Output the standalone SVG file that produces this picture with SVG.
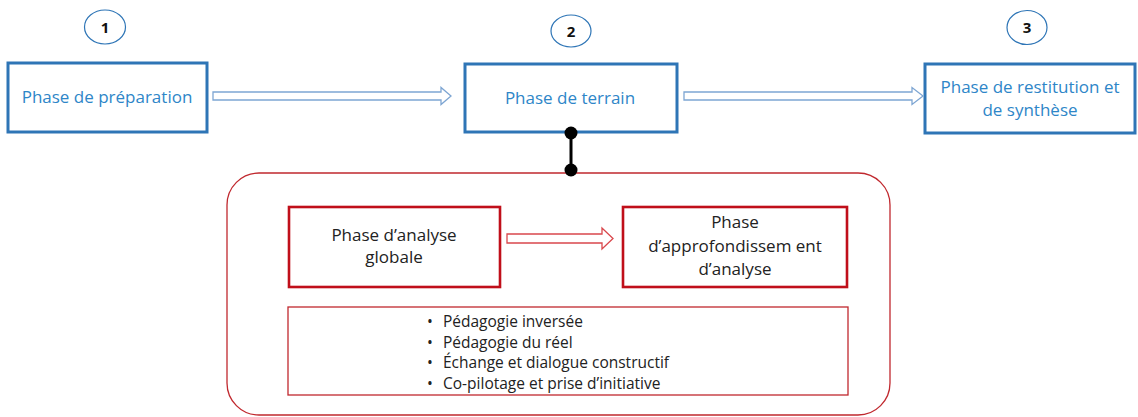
<svg xmlns="http://www.w3.org/2000/svg" width="1138" height="417" viewBox="0 0 1138 417">
  <style>
    .phase { fill: #ffffff; stroke: #2e75b6; stroke-width: 3; }
    .phase-text { font-family: "Open Sans", "Liberation Sans", sans-serif; font-size: 17px; fill: #2e86c8; text-anchor: middle; }
    .step { fill: #ffffff; stroke: #2e75b6; stroke-width: 1.2; }
    .step-text { font-family: "Open Sans", "Liberation Sans", sans-serif; font-size: 15px; font-weight: bold; fill: #111111; text-anchor: middle; }
    .frame { fill: none; stroke: #c0282e; stroke-width: 1.3; }
    .sub { fill: #ffffff; stroke: #c00f1a; stroke-width: 2.6; }
    .list-box { fill: #ffffff; stroke: #c0282e; stroke-width: 1.3; }
    .sub-text { font-family: "Open Sans", "Liberation Sans", sans-serif; font-size: 17px; fill: #222222; text-anchor: middle; }
    .list-text { font-family: "Open Sans", "Liberation Sans", sans-serif; font-size: 15.5px; fill: #222222; }
    .arrow-blue { fill: #ffffff; stroke: #7ea6d3; stroke-width: 1.3; }
    .arrow-red { fill: #ffffff; stroke: #d9474c; stroke-width: 1.3; }
    .link { stroke: #000000; stroke-width: 3; }
    .dot { fill: #000000; }
  </style>

  <!-- enclosing frame for the field phase details -->
  <rect class="frame" x="227" y="173" width="663" height="242" rx="32" ry="32"/>

  <!-- step markers -->
  <g id="step-1">
    <ellipse class="step" cx="105" cy="27" rx="20.5" ry="17"/>
    <text class="step-text" x="105" y="32.5">1</text>
  </g>
  <g id="step-2">
    <ellipse class="step" cx="571" cy="31" rx="20" ry="16"/>
    <text class="step-text" x="571" y="36.5">2</text>
  </g>
  <g id="step-3">
    <ellipse class="step" cx="1027" cy="27.5" rx="20" ry="17"/>
    <text class="step-text" x="1027" y="33">3</text>
  </g>

  <!-- main phases -->
  <g id="phase-preparation">
    <rect class="phase" x="8" y="63" width="199" height="69"/>
    <text class="phase-text" x="107" y="103">Phase de préparation</text>
  </g>
  <g id="phase-terrain">
    <rect class="phase" x="465" y="64" width="212" height="68"/>
    <text class="phase-text" x="570" y="104">Phase de terrain</text>
  </g>
  <g id="phase-restitution">
    <rect class="phase" x="925" y="64" width="210" height="69"/>
    <text class="phase-text" x="1030" y="93">Phase de restitution et</text>
    <text class="phase-text" x="1030" y="116">de synthèse</text>
  </g>

  <!-- field phase sub-steps -->
  <g id="analyse-globale">
    <rect class="sub" x="289" y="207" width="211" height="80"/>
    <text class="sub-text" x="394" y="241">Phase d’analyse</text>
    <text class="sub-text" x="394" y="263">globale</text>
  </g>
  <g id="approfondissement">
    <rect class="sub" x="623" y="207" width="224" height="80"/>
    <text class="sub-text" x="735" y="228">Phase</text>
    <text class="sub-text" x="735" y="252">d’approfondissem ent</text>
    <text class="sub-text" x="735" y="275">d’analyse</text>
  </g>
  <g id="methodes">
    <rect class="list-box" x="288" y="307" width="560" height="88"/>
    <g class="list-text">
      <text x="427" y="327">•</text><text x="443" y="327">Pédagogie inversée</text>
      <text x="427" y="348">•</text><text x="443" y="348">Pédagogie du réel</text>
      <text x="427" y="368">•</text><text x="443" y="368">Échange et dialogue constructif</text>
      <text x="427" y="389">•</text><text x="443" y="389">Co-pilotage et prise d’initiative</text>
    </g>
  </g>

  <!-- connectors -->
  <g id="connectors">
    <polygon class="arrow-blue" points="213,92 441,92 441,87.5 451,96 441,104.5 441,100 213,100"/>
    <polygon class="arrow-blue" points="684,92 912,92 912,87.5 923,96 912,104.5 912,100 684,100"/>
    <polygon class="arrow-red" points="507,234 602,234 602,228 613,238.5 602,249 602,243 507,243"/>
    <line class="link" x1="571" y1="133" x2="571" y2="170"/>
    <circle class="dot" cx="571" cy="133" r="6.5"/>
    <circle class="dot" cx="571" cy="170" r="6.5"/>
  </g>
</svg>
